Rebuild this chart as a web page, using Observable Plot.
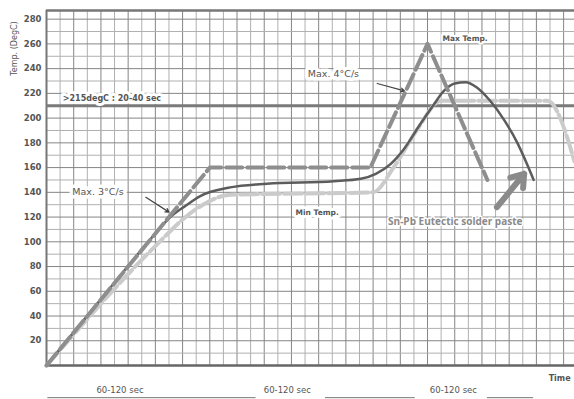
<!DOCTYPE html>
<html><head><meta charset="utf-8">
<script src="https://cdn.jsdelivr.net/npm/d3@7"></script>
<script src="https://cdn.jsdelivr.net/npm/@observablehq/plot@0.6"></script>
<style>body{margin:0;background:#fff;overflow:hidden}</style>
</head><body><div id="chart"></div>
<script>
// Actual (solid) profile
const actualTime = [0, 47, 74, 91, 102, 113, 135, 162, 211, 231, 242, 253, 262, 274, 284, 292, 300, 308, 316, 326, 336, 346, 358];
const actualTemp = [0, 63, 99, 120, 129, 137, 144, 147, 149, 151, 155, 163, 174, 194, 210, 222, 228, 229, 225, 214, 199, 180, 150];
// Max profile (dark dashed)
const maxTime = [0, 120, 238, 280, 324];
const maxTemp = [0, 160, 160, 260, 150];
// Min profile (light dashed)
const minTime = [0, 84, 100, 115, 135, 240, 255, 272, 290, 368, 388];
const minTemp = [0, 101, 118, 130, 138, 140, 160, 190, 214, 214, 165];
// Reference level
const liquidus = [210];
// Axis ticks
const yTicks = [20, 40, 60, 80, 100, 120, 140, 160, 180, 200, 220, 240, 260, 280];
const yMinor = d3.range(10, 290, 20);
const xMajor = d3.range(20, 390, 20);
const xMinor = d3.range(10, 390, 20);
const phaseLabels = ["60-120 sec", "60-120 sec", "60-120 sec"];
const phaseCenters = [54, 177, 299];

const actual = actualTime.map((t, i) => ({t, T: actualTemp[i]}));
const maxP = maxTime.map((t, i) => ({t, T: maxTemp[i]}));
const minP = minTime.map((t, i) => ({t, T: minTemp[i]}));
const phases = phaseLabels.map((s, i) => ({s, t: phaseCenters[i]}));

const chart = Plot.plot({
  width: 574, height: 399,
  marginLeft: 46, marginRight: 0, marginTop: 10, marginBottom: 34,
  style: {fontFamily: "DejaVu Sans", background: "#fff"},
  x: {domain: [0, 388], axis: null},
  y: {domain: [0, 287], axis: null},
  marks: [
    Plot.ruleX(xMinor, {stroke: "#b0b0b0", strokeWidth: 1}),
    Plot.ruleX(xMajor, {stroke: "#858585", strokeWidth: 1}),
    Plot.ruleY(yMinor, {stroke: "#b0b0b0", strokeWidth: 1}),
    Plot.ruleY(yTicks, {stroke: "#858585", strokeWidth: 1}),
    Plot.axisY({ticks: yTicks, tickSize: 3, tickPadding: 2, fontSize: 8.5, fontWeight: "bold", stroke: null, color: "#555", label: null}),
    Plot.ruleY([0], {stroke: "#666", strokeWidth: 2.5}),
    Plot.ruleY([287], {stroke: "#777", strokeWidth: 2.5}),
    Plot.ruleX([0], {stroke: "#777", strokeWidth: 2}),
    Plot.ruleY(liquidus, {stroke: "#7a7a7a", strokeWidth: 3}),
    Plot.text(["Temp. (DegC)"], {frameAnchor: "top-left", rotate: -90, dx: -35, dy: 38, fontSize: 8, fill: "#555", textAnchor: "middle"}),
    Plot.line(minP, {x: "t", y: "T", curve: "monotone-x", stroke: "#cbcbcb", strokeWidth: 4, strokeDasharray: "18,4"}),
    Plot.line(actual, {x: "t", y: "T", curve: "monotone-x", stroke: "#5c5c5c", strokeWidth: 2.5}),
    Plot.line(maxP, {x: "t", y: "T", stroke: "#8e8e8e", strokeWidth: 4, strokeDasharray: "16,5"}),
    Plot.text([">215degC : 20-40 sec"], {x: 12, y: 216, textAnchor: "start", fontSize: 8, fontWeight: "bold", fill: "#555", stroke: "white", strokeWidth: 6}),
    Plot.text(["Max. 3°C/s"], {x: 19, y: 140, textAnchor: "start", fontSize: 9.5, fill: "#555", stroke: "white", strokeWidth: 7}),
    Plot.arrow([0], {x1: 73, y1: 136, x2: 90, y2: 124, stroke: "#444", strokeWidth: 1.2, headLength: 5}),
    Plot.text(["Max. 4°C/s"], {x: 192, y: 236, textAnchor: "start", fontSize: 9.5, fill: "#555", stroke: "white", strokeWidth: 7}),
    Plot.arrow([0], {x1: 243, y1: 228, x2: 263, y2: 222, stroke: "#444", strokeWidth: 1.2, headLength: 5}),
    Plot.text(["Max Temp."], {x: 291, y: 264, textAnchor: "start", fontSize: 7.5, fontWeight: "bold", fill: "#555", stroke: "white", strokeWidth: 4}),
    Plot.text(["Min Temp."], {x: 183, y: 124, textAnchor: "start", fontSize: 7.5, fontWeight: "bold", fill: "#555", stroke: "white", strokeWidth: 6}),
    Plot.text(["Sn-Pb Eutectic solder paste"], {x: 251, y: 116.5, textAnchor: "start", fontFamily: "Open Sans", fontSize: 10, fontWeight: "bold", fill: "#8a8a8a", stroke: "white", strokeWidth: 3}),
    Plot.arrow([0], {x1: 331, y1: 128, x2: 351, y2: 155, stroke: "#8a8a8a", strokeWidth: 6, headLength: 14, headAngle: 70}),
    Plot.text(["Time"], {x: 369, y: -10.5, textAnchor: "start", fontSize: 8, fontWeight: "bold", fill: "#555"}),
    Plot.text(phases, {x: "t", y: -20, text: "s", fontSize: 8.5, fill: "#555"}),
    Plot.ruleY([-26], {x1: 1, x2: 154, stroke: "#777", strokeWidth: 1}),
    Plot.ruleY([-26], {x1: 205, x2: 271, stroke: "#777", strokeWidth: 1}),
    Plot.ruleY([-26], {x1: 324, x2: 358, stroke: "#777", strokeWidth: 1})
  ]
});
document.getElementById("chart").appendChild(chart);
</script>
</body></html>
